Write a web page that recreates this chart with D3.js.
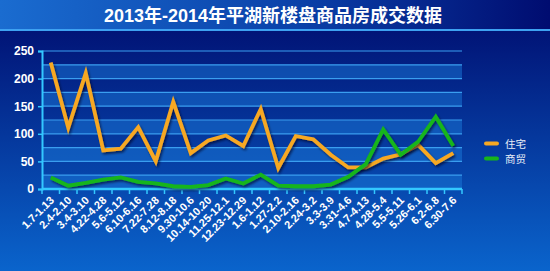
<!DOCTYPE html>
<html><head><meta charset="utf-8">
<script src="https://cdn.jsdelivr.net/npm/d3@7/dist/d3.min.js"></script>
<style>html,body{margin:0;padding:0;background:#001070;}svg{display:block;}</style>
</head><body>
<script>
const titleText = "2013年-2014年平湖新楼盘商品房成交数据";
const categories = ["1.7-1.13","2.4-2.10","3.4-3.10","4.22-4.28","5.6-5.12","6.10-6.16","7.22-7.28","8.12-8.18","9.30-10.6","10.14-10.20","11.25-12.1","12.23-12.29","1.6-1.12","1.27-2.2","2.10-2.16","2.24-3.2","3.3-3.9","3.31-4.6","4.7-4.13","4.28-5.4","5.5-5.11","5.26-6.1","6.2-6.8","6.30-7.6"];
const seriesNames = ["住宅","商贸"];
const residential = [229,111,210,70,73,112,50,158,65,88,97,78,145,38,96,90,62,39,39,55,63,80,47,65];
const commercial = [21,6,11,17,21,13,10,5,4,7,19,10,26,6,5,5,8,22,45,108,62,86,131,78];
const yTicks = [0,50,100,150,200,250];
const colors = ["#f7a823","#17b51a"];

const W=550,H=271;
const svg=d3.select("body").append("svg").attr("width",W).attr("height",H);
const defs=svg.append("defs");
const bg=defs.append("linearGradient").attr("id","bg").attr("x1",0).attr("y1",0).attr("x2",0).attr("y2",1);
bg.append("stop").attr("offset","0%").attr("stop-color","#000a6c");
bg.append("stop").attr("offset","100%").attr("stop-color","#0a64cc");
const tb=defs.append("linearGradient").attr("id","tb").attr("x1",0).attr("y1",0).attr("x2",1).attr("y2",0);
tb.append("stop").attr("offset","0%").attr("stop-color","#1a6cd0");
tb.append("stop").attr("offset","55%").attr("stop-color","#0a40a8");
tb.append("stop").attr("offset","100%").attr("stop-color","#000c70");
const sh=defs.append("filter").attr("id","sh").attr("x","-10%").attr("y","-10%").attr("width","130%").attr("height","130%");
sh.append("feDropShadow").attr("dx",1.5).attr("dy",2).attr("stdDeviation",1.2).attr("flood-color","#000020").attr("flood-opacity",0.6);

svg.append("rect").attr("width",W).attr("height",H).attr("fill","url(#bg)");
svg.append("rect").attr("width",W).attr("height",29).attr("fill","url(#tb)");
svg.append("rect").attr("y",29).attr("width",W).attr("height",2).attr("fill","#3ea2f2");
svg.append("text").attr("x",273).attr("y",22).attr("text-anchor","middle")
  .attr("fill","#fff").attr("font-size",18).attr("font-weight","bold")
  .attr("font-family","'Liberation Sans','Noto Sans CJK SC',sans-serif").text(titleText);

const x0=42,x1=462,yTop=51,yBot=189;
const x=d3.scaleBand().domain(categories).range([x0,x1]).padding(0);
const y=d3.scaleLinear().domain([0,250]).range([yBot,yTop]);
const g=svg.append("g");

// alternating bands every 25
const bands=d3.range(0,250,25);
g.selectAll("rect.band").data(bands).join("rect")
  .attr("x",x0).attr("width",x1-x0)
  .attr("y",d=>y(d+25)).attr("height",d=>y(d)-y(d+25))
  .attr("fill","#1a78d8").attr("fill-opacity",(d,i)=>i%2===0?0.5:0.0);
// gridlines every 25
g.selectAll("line.grid").data(d3.range(25,275,25)).join("line")
  .attr("x1",x0).attr("x2",x1).attr("y1",d=>y(d)).attr("y2",d=>y(d))
  .attr("stroke","#3a9ef0").attr("stroke-width",1.2);

// y axis
const yAx=svg.append("g").attr("transform",`translate(${x0},0)`)
  .call(d3.axisLeft(y).tickValues(yTicks).tickSize(4).tickPadding(4));
yAx.select(".domain").attr("stroke","#33c8ff").attr("stroke-width",2);
yAx.selectAll(".tick line").attr("stroke","#33c8ff").attr("stroke-width",1.5);
yAx.selectAll("text").attr("fill","#fff").attr("font-size",12).attr("font-weight","bold")
  .attr("font-family","'Liberation Sans',Arial,sans-serif");

// x axis with ticks between categories
const xAx=svg.append("g").attr("transform",`translate(0,${yBot})`);
xAx.append("line").attr("x1",x0).attr("x2",x1).attr("stroke","#33c8ff").attr("stroke-width",2.5);
const bounds=categories.map(c=>x(c)).concat([x1]);
xAx.selectAll("line.tk").data(bounds).join("line").attr("class","tk")
  .attr("x1",d=>d).attr("x2",d=>d).attr("y1",0).attr("y2",5)
  .attr("stroke","#33c8ff").attr("stroke-width",1.5);
xAx.selectAll("text").data(categories).join("text")
  .attr("transform",d=>`translate(${x(d)+x.bandwidth()/2+4},${12}) rotate(-45)`)
  .attr("text-anchor","end").attr("fill","#fff").attr("font-size",11).attr("font-weight","bold")
  .attr("font-family","'Liberation Sans',Arial,sans-serif").text(d=>d);

// lines
const line=d3.line().x((d,i)=>x(categories[i])+x.bandwidth()/2).y(d=>y(d));
[residential,commercial].forEach((s,k)=>{
  svg.append("path").datum(s).attr("d",line).attr("fill","none")
    .attr("stroke",colors[k]).attr("stroke-width",3.8).attr("stroke-linejoin","miter")
    .attr("filter","url(#sh)");
});

// legend
const lg=svg.append("g");
seriesNames.forEach((n,k)=>{
  const yy=143.5+k*15;
  lg.append("line").attr("x1",486).attr("x2",497).attr("y1",yy).attr("y2",yy)
    .attr("stroke",colors[k]).attr("stroke-width",4).attr("stroke-linecap","round");
  lg.append("text").attr("x",505).attr("y",yy+4).attr("fill","#e8eef8").attr("font-size",10.5)
    .attr("font-family","'Noto Sans CJK SC',sans-serif").text(n);
});
</script>
</body></html>
